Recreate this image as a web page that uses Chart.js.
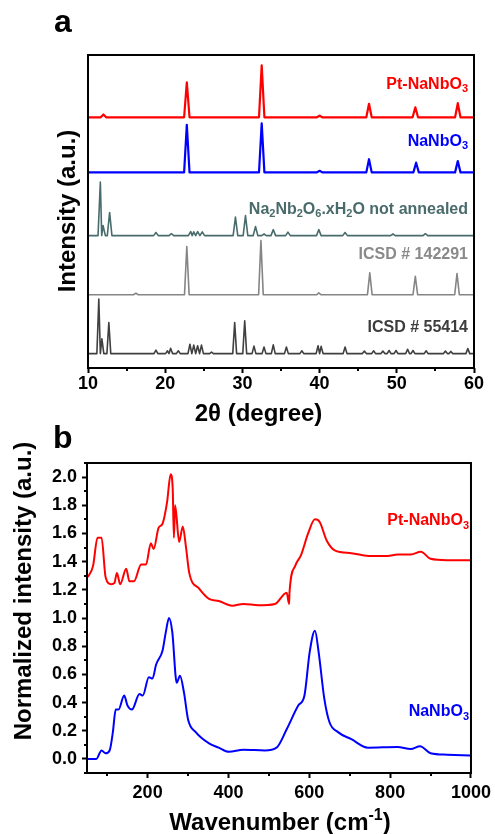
<!DOCTYPE html>
<html>
<head>
<meta charset="utf-8">
<script src="https://cdn.jsdelivr.net/npm/chart.js@4.4.1/dist/chart.umd.min.js"></script>
<style>
  html, body { margin: 0; padding: 0; background: #fff; }
  #wrap { position: relative; width: 495px; height: 834px; }
  #xrd { position: absolute; left: 0; top: 0; }
  #raman { position: absolute; left: 0; top: 420px; }
</style>
</head>
<body>
<div id="wrap">
  <canvas id="xrd" width="495" height="430"></canvas>
  <canvas id="raman" width="495" height="414"></canvas>
</div>
<script>
// ---------- panel a : XRD (2theta in degrees, peak heights above each stacked baseline) ----------
const xrdTicks = [10, 20, 30, 40, 50, 60];
const xrdMinor = [15, 25, 35, 45, 55];

const ptXrdBase = 80.1;
const ptXrdPos = [12.0, 22.8, 32.5, 40.0, 46.4, 52.4, 57.9];
const ptXrdHt  = [0.9, 11.2, 16.6, 0.5, 4.3, 3.2, 4.5];

const nnXrdBase = 62.5;
const nnXrdPos = [22.8, 32.5, 40.0, 46.4, 52.5, 57.9];
const nnXrdHt  = [15.2, 15.7, 0.5, 4.2, 3.1, 3.6];

const hydBase = 42.3;
const hydPos = [11.6, 11.95, 12.8, 18.8, 20.8, 23.3, 23.7, 24.2, 24.8, 29.1, 30.4, 31.7, 32.8, 34.0, 35.9, 39.9, 43.3, 49.5, 53.7];
const hydHt  = [17.1, 3.2, 7.4, 1.0, 0.6, 1.3, 1.2, 1.3, 1.2, 5.9, 6.4, 2.9, 0.5, 1.9, 1.1, 1.9, 1.0, 0.5, 0.6];

const icsd142Base = 23.4;
const icsd142Pos = [16.2, 22.8, 32.4, 39.9, 46.5, 52.4, 57.8];
const icsd142Ht  = [0.5, 15.4, 17.3, 0.6, 7.0, 5.9, 6.8];

const icsd554Base = 4.6;
const icsd554Pos = [11.4, 11.8, 12.7, 18.8, 20.3, 20.7, 21.7, 23.2, 23.7, 24.2, 24.7, 26.0, 29.0, 30.3, 31.5, 32.8, 34.0, 35.7, 37.7, 39.8, 40.2, 43.3, 45.8, 47.0, 48.2, 49.0, 49.9, 51.4, 52.1, 53.8, 56.3, 57.0, 59.2];
const icsd554Ht  = [17.4, 4.7, 9.9, 1.1, 0.9, 1.7, 0.9, 3.0, 2.7, 2.5, 2.7, 0.5, 9.9, 10.5, 2.4, 2.1, 2.8, 2.1, 0.9, 2.5, 2.3, 2.1, 0.8, 0.9, 0.8, 1.0, 1.0, 1.4, 1.0, 0.9, 0.8, 0.7, 1.6];

// ---------- panel b : Raman ----------
const ramanTicksX = [200, 400, 600, 800, 1000];
const ramanMinorX = [100, 300, 500, 700, 900];
const ramanTicksY = [0, 0.2, 0.4, 0.6, 0.8, 1.0, 1.2, 1.4, 1.6, 1.8, 2.0];
const ramanMinorY = [-0.1, 0.1, 0.3, 0.5, 0.7, 0.9, 1.1, 1.3, 1.5, 1.7, 1.9, 2.1];

const ramanWavePt = [52, 65, 76, 86, 96, 110, 118, 124, 132, 147, 155, 166, 184, 196, 208, 215, 227, 237, 248, 257, 262, 265, 268, 278, 287, 295, 303, 327, 352, 376, 409, 437, 474, 515, 544, 550, 551, 565, 580, 597, 614, 626, 643, 663, 704, 753, 794, 818, 851, 876, 900, 941, 998];
const ramanPt = [1.29, 1.37, 1.57, 1.57, 1.29, 1.24, 1.25, 1.32, 1.24, 1.35, 1.26, 1.26, 1.38, 1.38, 1.53, 1.49, 1.64, 1.67, 1.82, 2.02, 1.92, 1.57, 1.80, 1.54, 1.65, 1.50, 1.32, 1.21, 1.135, 1.12, 1.087, 1.10, 1.09, 1.10, 1.18, 1.10, 1.18, 1.37, 1.45, 1.60, 1.70, 1.68, 1.55, 1.48, 1.46, 1.44, 1.44, 1.45, 1.45, 1.47, 1.42, 1.41, 1.41];

const ramanWaveNN = [52, 73, 86, 96, 106, 114, 121, 128, 142, 150, 161, 180, 188, 203, 212, 221, 237, 245, 253, 261, 272, 280, 290, 300, 319, 352, 376, 401, 437, 490, 519, 544, 573, 588, 601, 614, 623, 637, 650, 671, 704, 745, 818, 851, 874, 900, 941, 998];
const ramanNN = [0.0, 0.0, 0.06, 0.04, 0.06, 0.19, 0.35, 0.35, 0.45, 0.38, 0.35, 0.46, 0.45, 0.58, 0.57, 0.67, 0.77, 0.90, 1.00, 0.90, 0.54, 0.59, 0.47, 0.28, 0.19, 0.11, 0.08, 0.05, 0.065, 0.06, 0.08, 0.21, 0.38, 0.45, 0.76, 0.91, 0.76, 0.43, 0.26, 0.19, 0.14, 0.08, 0.085, 0.07, 0.09, 0.04, 0.03, 0.025];

const FONT = '"Liberation Sans", Arial, Helvetica, sans-serif';
Chart.defaults.font.family = FONT;
Chart.defaults.color = '#000';

// each peak: foot - top - foot on its trace baseline; touching feet meet half way
function peakTrace(base, pos, ht, half) {
  const pts = [{ x: 10, y: base }];
  pos.forEach((p, i) => {
    const prev = pts[pts.length - 1];
    if (p - half <= prev.x) prev.x = (pos[i - 1] + p) / 2;
    else pts.push({ x: p - half, y: base });
    pts.push({ x: p, y: base + ht[i] });
    pts.push({ x: p + half, y: base });
  });
  pts.push({ x: 60, y: base });
  return pts;
}
const pairs = (xs, ys) => xs.map((x, i) => ({ x, y: ys[i] }));

// text with sub (1) / superscript (-1) pieces
function richText(ctx, t) {
  ctx.save();
  ctx.fillStyle = t.color || '#000';
  ctx.textBaseline = 'alphabetic';
  ctx.textAlign = 'left';
  const small = Math.round(t.size * 0.66);
  const fontOf = s => `bold ${s ? small : t.size}px ${FONT}`;
  const widths = t.parts.map(([s, m]) => { ctx.font = fontOf(m); return ctx.measureText(s).width; });
  const total = widths.reduce((a, b) => a + b, 0);
  ctx.translate(t.x, t.y);
  if (t.rot) ctx.rotate(-Math.PI / 2);
  let cx = t.align === 'right' ? -total : t.align === 'center' ? -total / 2 : 0;
  t.parts.forEach(([s, m], i) => {
    ctx.font = fontOf(m);
    const dy = m === 1 ? t.size * 0.22 : m === -1 ? -t.size * 0.4 : 0;
    ctx.fillText(s, cx, dy);
    cx += widths[i];
  });
  ctx.restore();
}

const decor = {
  id: 'decor',
  afterDraw(chart, args, o) {
    const { ctx, chartArea: a, scales } = chart;
    ctx.save();
    ctx.strokeStyle = '#000';
    ctx.lineWidth = 2;
    ctx.strokeRect(a.left, a.top, a.right - a.left, a.bottom - a.top);
    (o.xMinor || []).forEach(v => {
      const px = Math.round(scales.x.getPixelForValue(v));
      ctx.beginPath(); ctx.moveTo(px, a.bottom); ctx.lineTo(px, a.bottom + 3); ctx.stroke();
    });
    (o.yMinor || []).forEach(v => {
      const py = Math.round(scales.y.getPixelForValue(v));
      ctx.beginPath(); ctx.moveTo(a.left, py); ctx.lineTo(a.left - 3, py); ctx.stroke();
    });
    ctx.restore();
    (o.texts || []).forEach(t => richText(ctx, t));
  }
};

const tickGrid = { display: true, drawOnChartArea: false, drawTicks: true, tickLength: 5, tickWidth: 2, color: '#000' };

function xrdSet(data, color, width) {
  return { data, borderColor: color, borderWidth: width, pointRadius: 0, fill: false, tension: 0, borderJoinStyle: 'round' };
}

new Chart(document.getElementById('xrd'), {
  type: 'line',
  data: {
    datasets: [
      xrdSet(peakTrace(ptXrdBase, ptXrdPos, ptXrdHt, 0.35), '#ff0000', 2.2),
      xrdSet(peakTrace(nnXrdBase, nnXrdPos, nnXrdHt, 0.35), '#0000ff', 2.2),
      xrdSet(peakTrace(hydBase, hydPos, hydHt, 0.3), '#4a6b6b', 1.6),
      xrdSet(peakTrace(icsd142Base, icsd142Pos, icsd142Ht, 0.3), '#858585', 1.6),
      xrdSet(peakTrace(icsd554Base, icsd554Pos, icsd554Ht, 0.25), '#404040', 1.6)
    ]
  },
  options: {
    responsive: false,
    animation: false,
    layout: { padding: { left: 0, top: 55, right: 21, bottom: 0 } },
    scales: {
      x: {
        type: 'linear', min: 10, max: 60,
        afterBuildTicks: s => { s.ticks = xrdTicks.map(v => ({ value: v })); },
        afterFit: s => { s.height = 62; },
        ticks: { font: { size: 18, weight: 'bold' }, padding: 0, color: '#000', callback: v => String(v) },
        grid: tickGrid,
        border: { display: false }
      },
      y: {
        min: 0, max: 100,
        afterFit: s => { s.width = 88; },
        ticks: { display: false },
        grid: { display: false },
        border: { display: false }
      }
    },
    plugins: {
      legend: { display: false },
      tooltip: { enabled: false },
      decor: {
        xMinor: xrdMinor,
        texts: [
          { parts: [['a']], x: 54, y: 32, size: 32 },
          { parts: [['Pt-NaNbO'], ['3', 1]], x: 468, y: 88.5, size: 16, color: '#ff0000', align: 'right' },
          { parts: [['NaNbO'], ['3', 1]], x: 468, y: 145.5, size: 16, color: '#0000ff', align: 'right' },
          { parts: [['Na'], ['2', 1], ['Nb'], ['2', 1], ['O'], ['6', 1], ['.xH'], ['2', 1], ['O not annealed']], x: 468, y: 213.5, size: 16, color: '#4a6b6b', align: 'right' },
          { parts: [['ICSD # 142291']], x: 468, y: 258.5, size: 16, color: '#8a8a8a', align: 'right' },
          { parts: [['ICSD # 55414']], x: 468, y: 331.8, size: 16, color: '#3d3d3d', align: 'right' },
          { parts: [['2θ (degree)']], x: 258.5, y: 421, size: 24, align: 'center' },
          { parts: [['Intensity (a.u.)']], x: 75, y: 211, size: 24, align: 'center', rot: true }
        ]
      }
    }
  },
  plugins: [decor]
});

function ramanSet(data, color) {
  return { data, borderColor: color, borderWidth: 2, pointRadius: 0, fill: false, cubicInterpolationMode: 'monotone', borderJoinStyle: 'round' };
}

new Chart(document.getElementById('raman'), {
  type: 'line',
  data: {
    datasets: [
      ramanSet(pairs(ramanWavePt, ramanPt), '#ff0000'),
      ramanSet(pairs(ramanWaveNN, ramanNN), '#0000ff')
    ]
  },
  options: {
    responsive: false,
    animation: false,
    layout: { padding: { left: 0, top: 43, right: 21, bottom: 0 } },
    scales: {
      x: {
        type: 'linear', min: 50, max: 1000,
        afterBuildTicks: s => { s.ticks = ramanTicksX.map(v => ({ value: v })); },
        afterFit: s => { s.height = 61; },
        ticks: { font: { size: 18, weight: 'bold' }, padding: 4, color: '#000', callback: v => String(v) },
        grid: tickGrid,
        border: { display: false }
      },
      y: {
        min: -0.1, max: 2.1,
        afterBuildTicks: s => { s.ticks = ramanTicksY.map(v => ({ value: v })); },
        afterFit: s => { s.width = 87; },
        ticks: { font: { size: 18, weight: 'bold' }, padding: 5, color: '#000', callback: v => v.toFixed(1) },
        grid: tickGrid,
        border: { display: false }
      }
    },
    plugins: {
      legend: { display: false },
      tooltip: { enabled: false },
      decor: {
        xMinor: ramanMinorX,
        yMinor: ramanMinorY,
        texts: [
          { parts: [['b']], x: 53, y: 28, size: 32 },
          { parts: [['Pt-NaNbO'], ['3', 1]], x: 469, y: 105, size: 16, color: '#ff0000', align: 'right' },
          { parts: [['NaNbO'], ['3', 1]], x: 469, y: 296, size: 16, color: '#0000ff', align: 'right' },
          { parts: [['Wavenumber (cm'], ['-1', -1], [')']], x: 280, y: 410, size: 24, align: 'center' },
          { parts: [['Normalized intensity (a.u.)']], x: 31, y: 171, size: 24, align: 'center', rot: true }
        ]
      }
    }
  },
  plugins: [decor]
});
</script>
</body>
</html>
